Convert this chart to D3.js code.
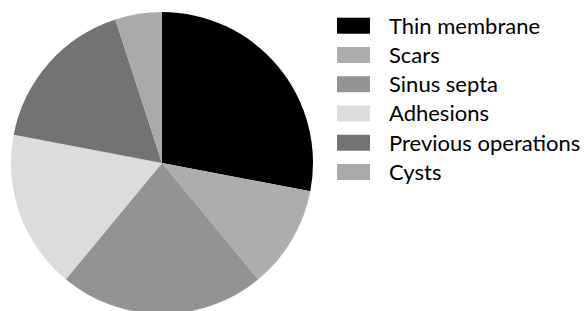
<!DOCTYPE html>
<html><head><meta charset="utf-8">
<script src="https://cdn.jsdelivr.net/npm/d3@7"></script>
<style>html,body{margin:0;padding:0;background:#fff;}</style>
</head><body>
<script>
const categories = ["Thin membrane","Scars","Sinus septa","Adhesions","Previous operations","Cysts"];
const values = [28, 11, 22, 17, 17, 5];
const colors = ["#000000","#adadad","#939393","#dcdcdc","#737373","#aaaaaa"];

const W = 584, H = 311;
const svg = d3.select("body").append("svg").attr("width", W).attr("height", H);
const cx = 162, cy = 163, r = 151;

const data = categories.map((c,i)=>({name:c, value:values[i], color:colors[i]}));
const pie = d3.pie().value(d=>d.value).sort(null);
const arc = d3.arc().innerRadius(0).outerRadius(r);
svg.append("g").attr("transform",`translate(${cx},${cy})`)
  .selectAll("path").data(pie(data)).join("path")
  .attr("d", arc).attr("fill", d=>d.data.color);

const y = d3.scalePoint().domain(categories).range([25.7, 172]);
const lg = svg.append("g");
const rows = lg.selectAll("g").data(data).join("g")
  .attr("transform", d=>`translate(0,${y(d.name)})`);
rows.append("rect").attr("x",337).attr("y",-8).attr("width",33).attr("height",16).attr("fill",d=>d.color);
rows.append("text").attr("x",389).attr("y",0).attr("dy","0.36em")
  .attr("font-family","Lato, 'Open Sans', sans-serif").attr("font-size",22).attr("fill","#000")
  .text(d=>d.name);
</script>
</body></html>
